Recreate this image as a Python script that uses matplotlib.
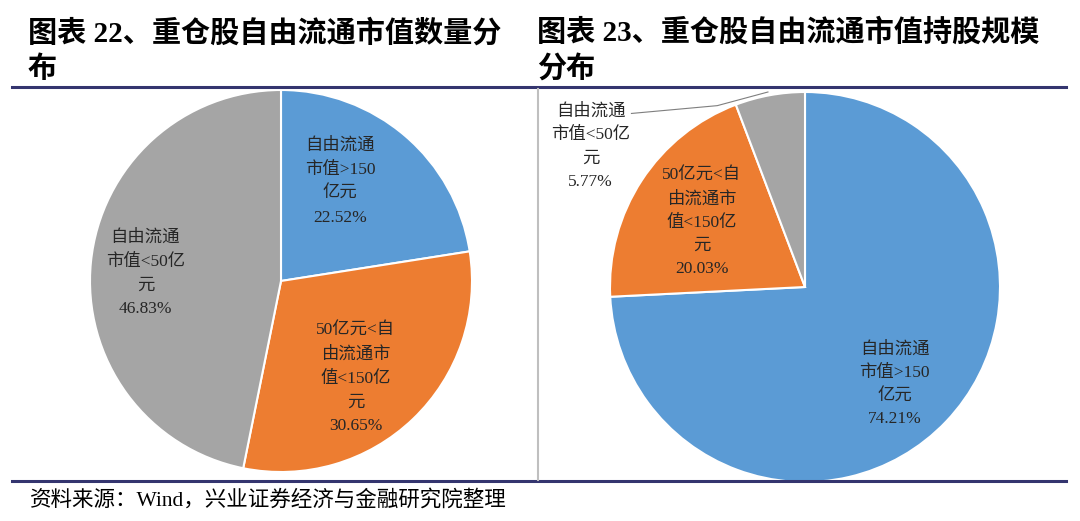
import matplotlib.pyplot as plt
from matplotlib.lines import Line2D

plt.rcParams['font.family'] = ['Liberation Serif', 'Noto Sans CJK SC', 'DejaVu Sans']

# 数据
left_labels = ['自由流通\n市值>150\n亿元', '50亿元<自\n由流通市\n值<150亿\n元', '自由流通\n市值<50亿\n元']
left_values = [22.52, 30.65, 46.83]
right_labels = ['自由流通\n市值>150\n亿元', '50亿元<自\n由流通市\n值<150亿\n元', '自由流通\n市值<50亿\n元']
right_values = [74.21, 20.03, 5.77]
colors = ['#5B9BD5', '#ED7D31', '#A5A5A5']

title_left = ['图表 22、重仓股自由流通市值数量分', '布']
title_right = ['图表 23、重仓股自由流通市值持股规模', '分布']
source = '资料来源：Wind，兴业证券经济与金融研究院整理'

W, H = 1080, 521
fig = plt.figure(figsize=(W / 100, H / 100), dpi=100)


def pie_axes(cx, cy, r):
    # 像素坐标 -> figure 坐标
    return fig.add_axes([(cx - r) / W, (H - cy - r) / H, 2 * r / W, 2 * r / H])


def fix_axes(ax):
    ax.set_xlim(-1, 1)
    ax.set_ylim(-1, 1)
    ax.set_aspect('equal')
    ax.axis('off')


# 左图
ax1 = pie_axes(281, 281, 191)
ax1.pie(left_values, colors=colors, startangle=90, counterclock=False, radius=1,
        wedgeprops=dict(edgecolor='white', linewidth=1.5))
fix_axes(ax1)
left_pos = [(0.31, 0.52), (0.39, -0.51), (-0.71, 0.04)]
for lab, v, (x, y) in zip(left_labels, left_values, left_pos):
    ax1.text(x, y, f'{lab}\n{v:.2f}%', ha='center', va='center', fontsize=12.5,
             color='#262626', linespacing=1.65)

# 右图
ax2 = pie_axes(805, 287, 195)
ax2.pie(right_values, colors=colors, startangle=90, counterclock=False, radius=1,
        wedgeprops=dict(edgecolor='white', linewidth=1.5))
fix_axes(ax2)
right_pos = [(0.46, -0.50), (-0.53, 0.33), (-1.10, 0.72)]
for lab, v, (x, y) in zip(right_labels, right_values, right_pos):
    ax2.text(x, y, f'{lab}\n{v:.2f}%', ha='center', va='center', fontsize=12.5,
             color='#262626', linespacing=1.6, clip_on=False)
ax2.plot([-0.89, -0.45, -0.19], [0.89, 0.93, 1.0], color='#7F7F7F', lw=0.8, clip_on=False)

# 标题
for i, y in enumerate([33, 69]):
    fig.text(28 / W, 1 - y / H, title_left[i], fontsize=21, weight='bold', va='center', ha='left')
    fig.text(537 / W, 1 - y / H, title_right[i], fontsize=21, weight='bold', va='center', ha='left')

# 分隔线
navy = '#34356F'
fig.add_artist(Line2D([12 / W, 1066 / W], [1 - 87 / H, 1 - 87 / H], color=navy, lw=2.2))
fig.add_artist(Line2D([12 / W, 1066 / W], [1 - 481 / H, 1 - 481 / H], color=navy, lw=2.2))
fig.add_artist(Line2D([538 / W, 538 / W], [1 - 89 / H, 1 - 480 / H], color='#BFBFBF', lw=1.5))

# 来源
fig.text(30 / W, 1 - 500 / H, source, fontsize=15.5, va='center', ha='left')

fig.savefig('out.png', dpi=100)
